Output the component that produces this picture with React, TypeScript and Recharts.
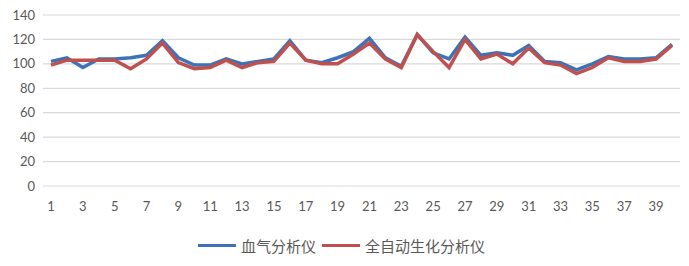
import { LineChart, Line, XAxis, YAxis, CartesianGrid } from "recharts";

const categories = Array.from({ length: 40 }, (_, i) => String(i + 1));

const bloodGas = [
  102, 105, 97, 104, 104, 105, 107, 119, 105, 99, 99, 104, 100, 102, 104, 119,
  103, 101, 105, 110, 121, 105, 98, 124, 109, 104, 122, 107, 109, 107, 115, 102,
  101, 95, 100, 106, 104, 104, 105, 116,
];

const biochem = [
  99, 103, 103, 103, 103, 96, 104, 117, 101, 96, 97, 103, 97, 101, 102, 117,
  103, 100, 100, 108, 117, 104, 97, 124, 110, 97, 120, 104, 108, 100, 113, 101,
  99, 92, 97, 105, 102, 102, 104, 115,
];

const yTicks = [0, 20, 40, 60, 80, 100, 120, 140];

const SERIES = [
  { key: "blood", name: "血气分析仪", color: "#3C73B8" },
  { key: "bio", name: "全自动生化分析仪", color: "#C0504D" },
];

const data = categories.map((c, i) => ({
  name: c,
  blood: bloodGas[i],
  bio: biochem[i],
}));

const tickStyle = { fill: "#595959", fontSize: 13, fontFamily: "Lato, 'Open Sans', sans-serif" };

function LegendBox() {
  return (
    <div
      style={{
        position: "absolute",
        top: 235,
        left: 0,
        width: 689,
        display: "flex",
        justifyContent: "center",
        alignItems: "center",
        fontFamily: "'Noto Sans CJK SC', sans-serif",
        fontSize: 15,
        color: "#595959",
      }}
    >
      {SERIES.map((s) => (
        <div key={s.key} style={{ display: "flex", alignItems: "center", marginRight: 6 }}>
          <div style={{ width: 38, height: 3, background: s.color, marginRight: 5 }} />
          <span>{s.name}</span>
        </div>
      ))}
    </div>
  );
}

export default function App() {
  return (
    <div style={{ position: "absolute", left: 0, top: 0, width: 689, height: 266, background: "#fff" }}>
      <LineChart
        width={689}
        height={266}
        data={data}
        margin={{ top: 15, right: 9, bottom: 50, left: 0 }}
      >
        <CartesianGrid vertical={false} stroke="#d9d9d9" strokeWidth={1.2} />
        <XAxis
          dataKey="name"
          interval={1}
          axisLine={false}
          tickLine={false}
          tick={tickStyle}
          tickMargin={10}
          height={30}
          padding={{ left: 8, right: 8 }}
        />
        <YAxis
          domain={[0, 140]}
          ticks={yTicks}
          interval={0}
          width={43}
          axisLine={false}
          tickLine={false}
          tick={tickStyle}
        />
        {SERIES.map((s) => (
          <Line
            key={s.key}
            dataKey={s.key}
            name={s.name}
            stroke={s.color}
            strokeWidth={3.5}
            dot={false}
            type="linear"
            isAnimationActive={false}
          />
        ))}
      </LineChart>
      <LegendBox />
    </div>
  );
}
